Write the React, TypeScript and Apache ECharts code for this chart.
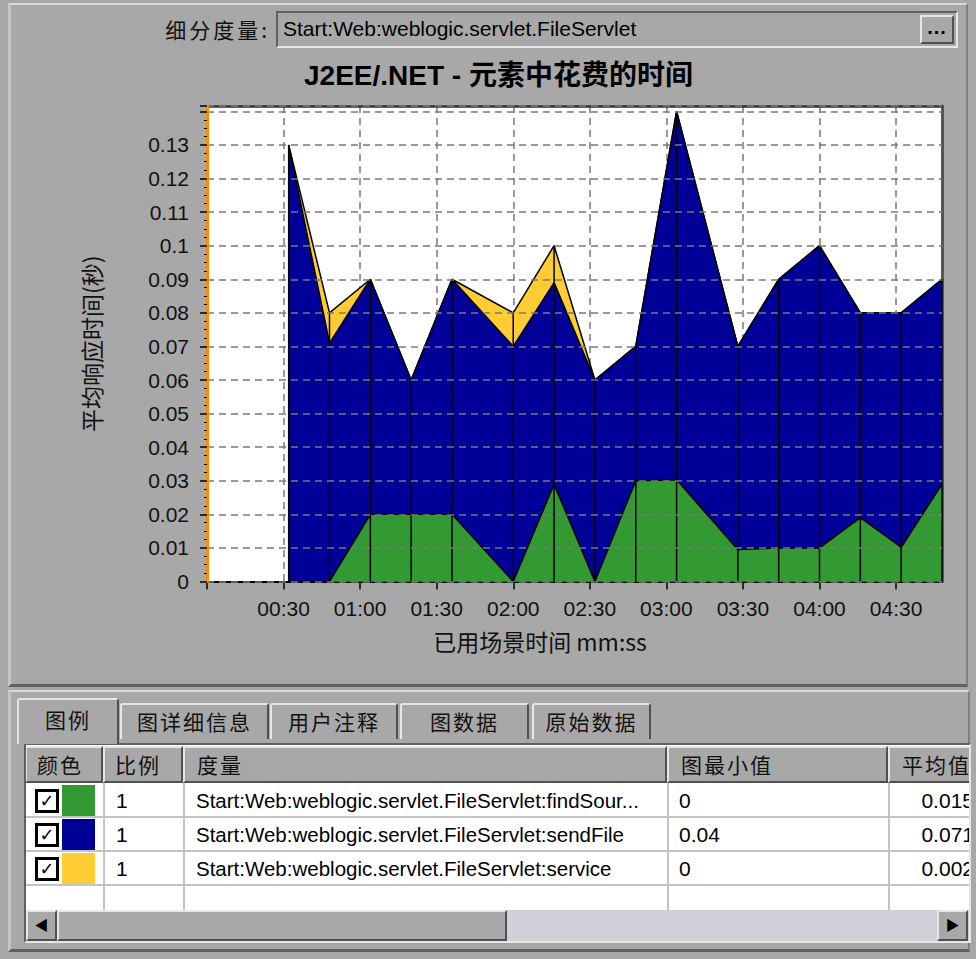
import React, { useEffect, useRef } from "react";
import * as echarts from "echarts";

// ---- data ----
const times = [32, 48, 64, 80, 96, 120, 136, 152, 168, 184, 208, 224, 240, 256, 272, 288];
const findSource = [0, 0, 0.02, 0.02, 0.02, 0, 0.029, 0, 0.03, 0.0303, 0.0095, 0.01, 0.01, 0.019, 0.0102, 0.029];
const sendFile = [0.13, 0.071, 0.07, 0.04, 0.07, 0.07, 0.06, 0.06, 0.04, 0.1097, 0.0605, 0.08, 0.09, 0.061, 0.0698, 0.061];
const service = [0, 0.009, 0, 0, 0, 0.01, 0.011, 0, 0, 0, 0, 0, 0, 0, 0, 0];

const seriesNames = [
  "Start:Web:weblogic.servlet.FileServlet:findSource",
  "Start:Web:weblogic.servlet.FileServlet:sendFile",
  "Start:Web:weblogic.servlet.FileServlet:service",
];
const legendLabels = [
  "Start:Web:weblogic.servlet.FileServlet:findSour...",
  "Start:Web:weblogic.servlet.FileServlet:sendFile",
  "Start:Web:weblogic.servlet.FileServlet:service",
];
const legendScale = ["1", "1", "1"];
const legendMin = ["0", "0.04", "0"];
const legendAvg = ["0.015", "0.071", "0.002"];
const seriesColors = ["#339933", "#000099", "#ffcc33"];
const tabs = ["图例", "图详细信息", "用户注释", "图数据", "原始数据"];
const headers = ["颜色", "比例", "度量", "图最小值", "平均值"];

const title = "J2EE/.NET - 元素中花费的时间";
const yName = "平均响应时间(秒)";
const xName = "已用场景时间 mm:ss";
const measureLabel = "细分度量:";
const measureValue = "Start:Web:weblogic.servlet.FileServlet";

const LATIN = "'Liberation Sans', Arial, 'Noto Sans CJK SC', sans-serif";
const CJK = "'Noto Sans CJK SC', 'Liberation Sans', sans-serif";
const GRAY = "#a8a8a8";

const raised: React.CSSProperties = {
  boxSizing: "border-box",
  borderTop: "2px solid #e6e6e6",
  borderLeft: "2px solid #e6e6e6",
  borderRight: "2px solid #505050",
  borderBottom: "2px solid #505050",
  background: GRAY,
};
const sunken: React.CSSProperties = {
  boxSizing: "border-box",
  borderTop: "2px solid #606060",
  borderLeft: "2px solid #606060",
  borderRight: "2px solid #e6e6e6",
  borderBottom: "2px solid #e6e6e6",
};

function mmss(v: number) {
  const m = Math.floor(v / 60);
  const s = Math.round(v % 60);
  return String(m).padStart(2, "0") + ":" + String(s).padStart(2, "0");
}

export default function App() {
  const ref = useRef<HTMLDivElement>(null);
  useEffect(() => {
    const chart = echarts.init(ref.current!, null, { renderer: "svg" });
    const layers = [findSource, sendFile, service];
    // cumulative tops of the stacked layers (bottom -> top)
    const cum = layers.map((_, k) =>
      times.map((_t, i) => {
        let s = 0;
        for (let j = 0; j <= k; j++) s += layers[j][i];
        return +s.toFixed(5);
      })
    );
    const totals = times.map((t, i) => [t, cum[2][i]]);
    const split = { show: true, lineStyle: { color: "#7a7a7a", width: 1.5, type: [7, 5] as any } };
    // draw top layer first so lower layers cover it
    const areaSeries = [2, 1, 0].map((k, order) => ({
      name: seriesNames[k],
      type: "line",
      symbol: "none",
      z: 2 + order * 0.1,
      data: times.map((t, i) => [t, cum[k][i]]),
      lineStyle: { color: "#000", width: 1.5 },
      itemStyle: { color: seriesColors[k] },
      areaStyle: { color: seriesColors[k], opacity: 1, origin: "start" },
    }));
    chart.setOption({
      animation: false,
      backgroundColor: "transparent",
      title: {
        text: title,
        left: 299,
        top: 6,
        textStyle: { fontFamily: LATIN, fontSize: 28, fontWeight: "bold", color: "#000" },
      },
      grid: {
        left: 207,
        right: 34,
        top: 56,
        bottom: 103.5,
        show: true,
        backgroundColor: "#ffffff",
        borderWidth: 0,
      },
      xAxis: [
        {
          type: "value",
          min: 0,
          max: 288,
          interval: 30,
          axisLine: { show: true, onZero: false, lineStyle: { color: "#000", width: 2 } },
          axisTick: { show: true, length: 8, lineStyle: { color: "#000", width: 1.5 } },
          axisLabel: {
            margin: 16,
            fontFamily: LATIN,
            fontSize: 21,
            color: "#111",
            showMaxLabel: false,
            formatter: (v: number) => (v > 0 && v < 285 && v % 30 === 0 ? mmss(v) : ""),
          },
          splitLine: split,
        },
        {
          type: "value",
          position: "top",
          min: 0,
          max: 288,
          axisLine: { show: true, onZero: false, lineStyle: { color: "#333", width: 2.5 } },
          axisTick: { show: false },
          axisLabel: { show: false },
          splitLine: { show: false },
        },
      ],
      yAxis: [
        {
          type: "value",
          min: 0,
          max: 0.1416,
          interval: 0.01,
          name: yName,
          nameLocation: "middle",
          nameGap: 105,
          nameTextStyle: { fontFamily: CJK, fontSize: 23, color: "#111" },
          axisLine: { show: true, onZero: false, lineStyle: { color: "#ff8c00", width: 3 } },
          axisTick: { show: true, length: 7, lineStyle: { color: "#000", width: 1.5 } },
          minorTick: { show: true, splitNumber: 4, length: 3, lineStyle: { color: "#000", width: 1 } },
          axisLabel: {
            margin: 18,
            fontFamily: LATIN,
            fontSize: 21,
            color: "#111",
            formatter: (v: number) => (v > 0.135 ? "" : String(parseFloat(v.toFixed(2)))),
          },
          splitLine: split,
          z: 10,
        },
        {
          type: "value",
          position: "right",
          min: 0,
          max: 0.1416,
          axisLine: { show: true, onZero: false, lineStyle: { color: "#555", width: 3 } },
          axisTick: { show: false },
          axisLabel: { show: false },
          splitLine: { show: false },
        },
      ],
      graphic: [
        {
          type: "text",
          x: 540,
          y: 591,
          style: {
            text: xName,
            fontFamily: CJK,
            fontSize: 23,
            fill: "#111",
            textAlign: "center",
            textVerticalAlign: "middle",
          },
        },
      ],
      series: [
        ...areaSeries,
        {
          name: "separators",
          type: "custom",
          z: 5,
          data: totals,
          renderItem: (_p: any, api: any) => {
            const t = api.value(0);
            const tot = api.value(1);
            const a = api.coord([t, 0]);
            const b = api.coord([t, tot]);
            return {
              type: "line",
              shape: { x1: a[0], y1: a[1], x2: b[0], y2: b[1] },
              style: { stroke: "#000", lineWidth: 1.5 },
            };
          },
        },
      ],
    });
    return () => chart.dispose();
  }, []);

  const colX = [25, 103, 183, 667, 888, 975];
  const rowTop = 784;
  const rowH = 34;

  return (
    <div
      style={{
        position: "fixed",
        left: 0,
        top: 0,
        width: 976,
        height: 959,
        background: GRAY,
        overflow: "hidden",
        fontFamily: LATIN,
        color: "#000",
      }}
    >
      {/* top panel frame */}
      <div
        style={{
          position: "absolute",
          left: 8,
          top: 3,
          width: 960,
          height: 684,
          boxSizing: "border-box",
          borderTop: "2px solid #d8d8d8",
          borderLeft: "3px solid #c4c4c4",
          borderRight: "2px solid #808080",
          borderBottom: "3px solid #606060",
        }}
      />
      {/* measure selector */}
      <div
        style={{
          position: "absolute",
          right: 976 - 270,
          top: 12,
          height: 34,
          lineHeight: "34px",
          fontFamily: CJK,
          fontSize: 21,
          letterSpacing: 3,
          whiteSpace: "nowrap",
          color: "#111",
        }}
      >
        {measureLabel}
      </div>
      <div
        style={{
          ...sunken,
          position: "absolute",
          left: 276,
          top: 11,
          width: 682,
          height: 37,
          background: GRAY,
        }}
      >
        <div
          style={{
            position: "absolute",
            left: 5,
            top: 0,
            lineHeight: "32px",
            fontSize: 21,
            whiteSpace: "nowrap",
            color: "#000",
          }}
        >
          {measureValue}
        </div>
        <div
          style={{
            ...raised,
            position: "absolute",
            right: 2,
            top: 2,
            width: 34,
            height: 29,
            textAlign: "center",
            lineHeight: "20px",
            fontWeight: "bold",
            fontSize: 20,
            letterSpacing: 1,
          }}
        >
          ...
        </div>
      </div>

      {/* chart */}
      <div ref={ref} style={{ position: "absolute", left: 0, top: 50, width: 976, height: 635 }} />

      {/* bottom panel */}
      <div
        style={{
          position: "absolute",
          left: 8,
          top: 690,
          width: 962,
          height: 262,
          boxSizing: "border-box",
          borderTop: "2px solid #d8d8d8",
          borderLeft: "3px solid #c4c4c4",
          borderRight: "2px solid #808080",
          borderBottom: "3px solid #606060",
        }}
      />
      {/* tabs */}
      {tabs.map((t, i) => {
        const xs = [17, 120, 270, 400, 532];
        const ws = [102, 149, 128, 129, 119];
        const sel = i === 0;
        return (
          <div
            key={t}
            style={{
              position: "absolute",
              left: xs[i],
              top: sel ? 698 : 703,
              width: ws[i],
              height: sel ? 46 : 36,
              boxSizing: "border-box",
              borderTop: "2px solid #e6e6e6",
              borderLeft: "2px solid #e6e6e6",
              borderRight: "2px solid #505050",
              borderTopLeftRadius: 3,
              borderTopRightRadius: 3,
              background: GRAY,
              fontFamily: CJK,
              fontSize: 21,
              textAlign: "center",
              lineHeight: sel ? "38px" : "32px",
              letterSpacing: 2,
              color: "#111",
              zIndex: sel ? 3 : 1,
            }}
          >
            {t}
          </div>
        );
      })}
      {/* table */}
      <div
        style={{
          ...sunken,
          position: "absolute",
          left: 24,
          top: 743,
          width: 947,
          height: 200,
          background: "#ffffff",
          overflow: "hidden",
          zIndex: 2,
        }}
      />
      <div style={{ position: "absolute", left: 26, top: 745, width: 943, height: 196, overflow: "hidden", zIndex: 4 }}>
        {headers.map((h, i) => (
          <div
            key={h}
            style={{
              ...raised,
              position: "absolute",
              left: colX[i] - 26,
              top: 1,
              width: colX[i + 1] - colX[i],
              height: 37,
              fontFamily: CJK,
              fontSize: 21,
              lineHeight: "32px",
              paddingLeft: i < 2 ? 10 : 12,
              letterSpacing: 2,
              whiteSpace: "nowrap",
              color: "#111",
            }}
          >
            {h}
          </div>
        ))}
        {legendLabels.map((lab, r) => {
          const top = rowTop - 745 + r * rowH;
          return (
            <React.Fragment key={lab}>
              <div
                style={{
                  position: "absolute",
                  left: 9,
                  top: top + 5,
                  width: 24,
                  height: 24,
                  boxSizing: "border-box",
                  border: "3px solid #000",
                  background: "#fff",
                  fontSize: 18,
                  lineHeight: "17px",
                  textAlign: "center",
                  fontWeight: "bold",
                  fontFamily: "'DejaVu Sans', sans-serif",
                }}
              >
                ✓
              </div>
              <div
                style={{
                  position: "absolute",
                  left: 36,
                  top: top + 1,
                  width: 33,
                  height: rowH - 2,
                  background: seriesColors[r],
                }}
              />
              <div style={{ position: "absolute", left: 90, top, lineHeight: rowH + "px", fontSize: 21 }}>
                {legendScale[r]}
              </div>
              <div
                style={{
                  position: "absolute",
                  left: 170,
                  top,
                  lineHeight: rowH + "px",
                  fontSize: 20.5,
                  whiteSpace: "nowrap",
                }}
              >
                {lab}
              </div>
              <div style={{ position: "absolute", left: 653, top, lineHeight: rowH + "px", fontSize: 21 }}>
                {legendMin[r]}
              </div>
              <div
                style={{
                  position: "absolute",
                  right: -5,
                  top,
                  lineHeight: rowH + "px",
                  fontSize: 21,
                  textAlign: "right",
                }}
              >
                {legendAvg[r]}
              </div>
            </React.Fragment>
          );
        })}
        {[0, 1, 2, 3].map((r) => (
          <div
            key={"h" + r}
            style={{
              position: "absolute",
              left: 0,
              top: rowTop - 745 + (r + 1) * rowH - 2,
              width: 943,
              height: 2,
              background: "#c4c4c4",
            }}
          />
        ))}
        {colX.slice(1, 5).map((x) => (
          <div
            key={"v" + x}
            style={{
              position: "absolute",
              left: x - 26,
              top: 38,
              width: 2,
              height: 130,
              background: "#c4c4c4",
            }}
          />
        ))}
        <div style={{ position: "absolute", left: 0, top: 165, width: 943, height: 31, background: "#d0d0d8" }} />
        <div
          style={{
            ...raised,
            position: "absolute",
            left: 0,
            top: 165,
            width: 31,
            height: 31,
            textAlign: "center",
            fontSize: 14,
            lineHeight: "27px",
          }}
        >
          ◀
        </div>
        <div style={{ ...raised, position: "absolute", left: 31, top: 165, width: 450, height: 31 }} />
        <div
          style={{
            ...raised,
            position: "absolute",
            left: 911,
            top: 165,
            width: 31,
            height: 31,
            textAlign: "center",
            fontSize: 14,
            lineHeight: "27px",
          }}
        >
          ▶
        </div>
      </div>
    </div>
  );
}
